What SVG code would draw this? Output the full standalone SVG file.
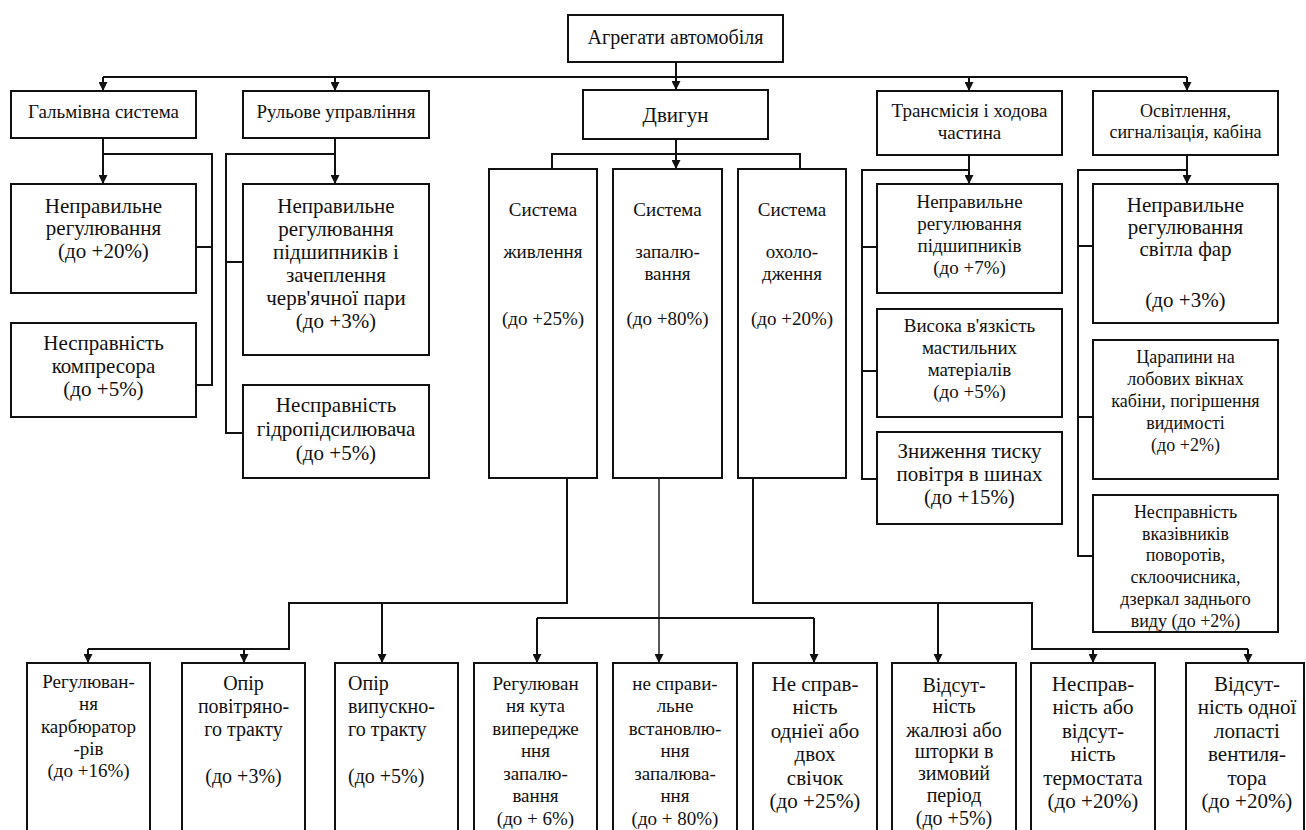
<svg xmlns="http://www.w3.org/2000/svg" width="1306" height="830" viewBox="0 0 1306 830">
  <defs>
    <marker id="arrow" viewBox="0 0 10 10" refX="10" refY="5" markerWidth="9" markerHeight="9" markerUnits="userSpaceOnUse" orient="auto">
      <path d="M0,0 L10,5 L0,10 z" fill="#111"/>
    </marker>
    <style>
      .box { fill: #fff; stroke: #111; stroke-width: 2; }
      .t { font-family: "Liberation Serif", serif; fill: #111; text-anchor: middle; }
      .l { text-anchor: start; }
      .f18 { font-size: 18px; }
      .f19 { font-size: 19px; }
      .f20 { font-size: 20px; }
      .f21 { font-size: 21px; }
      .wire { fill: none; stroke: #111; stroke-width: 2; }
      .thin { stroke-width: 1.4; }
      .arr { marker-end: url(#arrow); }
    </style>
  </defs>

  <rect x="0" y="0" width="1306" height="830" fill="#fff"/>

  <!-- connectors -->
  <g id="connectors">
    <!-- top level distribution -->
    <path class="wire" d="M103,77 H1187"/>
    <path class="wire arr" d="M676,62 V90"/>
    <path class="wire arr" d="M103,77 V91"/>
    <path class="wire arr" d="M335,77 V91"/>
    <path class="wire arr" d="M969,77 V91"/>
    <path class="wire arr" d="M1187,77 V91"/>

    <!-- brakes -->
    <path class="wire arr" d="M103,138 V184"/>
    <path class="wire" d="M103,154 H212 V385 H196 M196,247 H212"/>

    <!-- steering -->
    <path class="wire arr" d="M335,138 V184"/>
    <path class="wire" d="M335,154 H226 V433 H243 M226,262 H243"/>

    <!-- engine -->
    <path class="wire arr" d="M676,139 V169"/>
    <path class="wire" d="M552,169 V154 H800 V169"/>

    <!-- transmission -->
    <path class="wire arr" d="M969,155 V184"/>
    <path class="wire" d="M969,170 H862 V479 H877 M862,247 H877 M862,371 H877"/>

    <!-- lighting -->
    <path class="wire arr" d="M1187,155 V184"/>
    <path class="wire" d="M1187,170 H1078 V556 H1093 M1078,246 H1093 M1078,417 H1093"/>

    <!-- fuel system branches -->
    <path class="wire" d="M567,478 V603 H289 V649 H88"/>
    <path class="wire arr" d="M88,649 V663"/>
    <path class="wire arr" d="M244,649 V663"/>
    <path class="wire arr" d="M382,603 V663"/>

    <!-- ignition system branches -->
    <path class="wire thin arr" d="M659,478 V663"/>
    <path class="wire" d="M537,618 H814"/>
    <path class="wire arr" d="M537,618 V663"/>
    <path class="wire arr" d="M814,618 V663"/>

    <!-- cooling system branches -->
    <path class="wire" d="M753,478 V603 H1032 V649 H1248"/>
    <path class="wire arr" d="M938,603 V663"/>
    <path class="wire arr" d="M1093,649 V663"/>
    <path class="wire arr" d="M1248,649 V663"/>
  </g>

  <!-- root -->
  <g id="n-root">
    <rect class="box" x="568" y="15" width="215" height="47"/>
    <text class="t f20" x="675.5" y="44">Агрегати автомобіля</text>
  </g>

  <!-- level 1 -->
  <g id="n-brakes">
    <rect class="box" x="11" y="91" width="185" height="47"/>
    <text class="t f19" x="103.5" y="118">Гальмівна система</text>
  </g>
  <g id="n-steering">
    <rect class="box" x="243" y="91" width="186" height="47"/>
    <text class="t f19" x="336" y="118">Рульове управління</text>
  </g>
  <g id="n-engine">
    <rect class="box" x="583" y="90" width="185" height="49"/>
    <text class="t f21" x="675.5" y="122">Двигун</text>
  </g>
  <g id="n-transmission">
    <rect class="box" x="877" y="91" width="185" height="64"/>
    <text class="t f19"><tspan x="969.5" y="117">Трансмісія і ходова</tspan><tspan x="969.5" y="139">частина</tspan></text>
  </g>
  <g id="n-lighting">
    <rect class="box" x="1093" y="91" width="185" height="64"/>
    <text class="t f18"><tspan x="1185.5" y="117">Освітлення,</tspan><tspan x="1185.5" y="138">сигналізація, кабіна</tspan></text>
  </g>

  <!-- brakes -->
  <g id="n-brake-adjust">
    <rect class="box" x="11" y="184" width="185" height="109"/>
    <text class="t f21"><tspan x="103.5" y="213">Неправильне</tspan><tspan x="103.5" y="235">регулювання</tspan><tspan x="103.5" y="258">(до +20%)</tspan></text>
  </g>
  <g id="n-compressor">
    <rect class="box" x="11" y="323" width="185" height="94"/>
    <text class="t f21"><tspan x="103.5" y="350">Несправність</tspan><tspan x="103.5" y="373">компресора</tspan><tspan x="103.5" y="396">(до +5%)</tspan></text>
  </g>

  <!-- steering -->
  <g id="n-steer-bearings">
    <rect class="box" x="243" y="184" width="186" height="171"/>
    <text class="t f21"><tspan x="336" y="213">Неправильне</tspan><tspan x="336" y="236">регулювання</tspan><tspan x="336" y="259">підшипників і</tspan><tspan x="336" y="282">зачеплення</tspan><tspan x="336" y="305">черв'ячної пари</tspan><tspan x="336" y="328">(до +3%)</tspan></text>
  </g>
  <g id="n-hydro">
    <rect class="box" x="243" y="385" width="186" height="93"/>
    <text class="t f21"><tspan x="336" y="412">Несправність</tspan><tspan x="336" y="436">гідропідсилювача</tspan><tspan x="336" y="460">(до +5%)</tspan></text>
  </g>

  <!-- engine systems -->
  <g id="n-fuel">
    <rect class="box" x="489" y="169" width="108" height="309"/>
    <text class="t f19"><tspan x="543" y="216">Система</tspan><tspan x="543" y="258">живлення</tspan><tspan x="543" y="325">(до +25%)</tspan></text>
  </g>
  <g id="n-ignition">
    <rect class="box" x="613" y="169" width="109" height="309"/>
    <text class="t f19"><tspan x="667.5" y="216">Система</tspan><tspan x="667.5" y="258">запалю-</tspan><tspan x="667.5" y="280">вання</tspan><tspan x="667.5" y="325">(до +80%)</tspan></text>
  </g>
  <g id="n-cooling">
    <rect class="box" x="738" y="169" width="108" height="309"/>
    <text class="t f19"><tspan x="792" y="216">Система</tspan><tspan x="792" y="258">охоло-</tspan><tspan x="792" y="280">дження</tspan><tspan x="792" y="325">(до +20%)</tspan></text>
  </g>

  <!-- transmission -->
  <g id="n-trans-bearings">
    <rect class="box" x="877" y="184" width="185" height="109"/>
    <text class="t f19"><tspan x="969.5" y="208">Неправильне</tspan><tspan x="969.5" y="230">регулювання</tspan><tspan x="969.5" y="252">підшипників</tspan><tspan x="969.5" y="274">(до +7%)</tspan></text>
  </g>
  <g id="n-viscosity">
    <rect class="box" x="877" y="309" width="185" height="108"/>
    <text class="t f19"><tspan x="969.5" y="332">Висока в'язкість</tspan><tspan x="969.5" y="354">мастильних</tspan><tspan x="969.5" y="376">матеріалів</tspan><tspan x="969.5" y="398">(до +5%)</tspan></text>
  </g>
  <g id="n-tyres">
    <rect class="box" x="877" y="432" width="185" height="92"/>
    <text class="t f21"><tspan x="969.5" y="458">Зниження тиску</tspan><tspan x="969.5" y="481">повітря в шинах</tspan><tspan x="969.5" y="504">(до +15%)</tspan></text>
  </g>

  <!-- lighting -->
  <g id="n-headlights">
    <rect class="box" x="1093" y="184" width="185" height="139"/>
    <text class="t f21"><tspan x="1185.5" y="212">Неправильне</tspan><tspan x="1185.5" y="234">регулювання</tspan><tspan x="1185.5" y="256">світла фар</tspan><tspan x="1185.5" y="307">(до +3%)</tspan></text>
  </g>
  <g id="n-windscreen">
    <rect class="box" x="1093" y="340" width="185" height="139"/>
    <text class="t f18"><tspan x="1185.5" y="363">Царапини на</tspan><tspan x="1185.5" y="385">лобових вікнах</tspan><tspan x="1185.5" y="407">кабіни, погіршення</tspan><tspan x="1185.5" y="429">видимості</tspan><tspan x="1185.5" y="451">(до +2%)</tspan></text>
  </g>
  <g id="n-indicators">
    <rect class="box" x="1093" y="495" width="185" height="137"/>
    <text class="t f18"><tspan x="1185.5" y="518">Несправність</tspan><tspan x="1185.5" y="540">вказівників</tspan><tspan x="1185.5" y="561">поворотів,</tspan><tspan x="1185.5" y="583">склоочисника,</tspan><tspan x="1185.5" y="605">дзеркал заднього</tspan><tspan x="1185.5" y="627">виду (до +2%)</tspan></text>
  </g>

  <!-- bottom row -->
  <g id="b-carburettor">
    <rect class="box" x="27" y="663" width="123" height="180"/>
    <text class="t f19"><tspan x="88.5" y="688">Регулюван-</tspan><tspan x="88.5" y="710">ня</tspan><tspan x="88.5" y="733">карбюратор</tspan><tspan x="88.5" y="755">-рів</tspan><tspan x="88.5" y="777">(до +16%)</tspan></text>
  </g>
  <g id="b-air">
    <rect class="box" x="182" y="663" width="123" height="180"/>
    <text class="t f20"><tspan x="243.5" y="690">Опір</tspan><tspan x="243.5" y="713">повітряно-</tspan><tspan x="243.5" y="736">го тракту</tspan><tspan x="243.5" y="783">(до +3%)</tspan></text>
  </g>
  <g id="b-exhaust">
    <rect class="box" x="335" y="663" width="123" height="180"/>
    <text class="t l f20"><tspan x="348" y="690">Опір</tspan><tspan x="348" y="713">випускно-</tspan><tspan x="348" y="736">го тракту</tspan><tspan x="348" y="783">(до +5%)</tspan></text>
  </g>
  <g id="b-timing">
    <rect class="box" x="474" y="663" width="123" height="180"/>
    <text class="t f19"><tspan x="535.5" y="690">Регулюван</tspan><tspan x="535.5" y="712">ня кута</tspan><tspan x="535.5" y="735">випередже</tspan><tspan x="535.5" y="757">ння</tspan><tspan x="535.5" y="780">запалю-</tspan><tspan x="535.5" y="802">вання</tspan><tspan x="535.5" y="825">(до + 6%)</tspan></text>
  </g>
  <g id="b-setting">
    <rect class="box" x="613" y="663" width="124" height="180"/>
    <text class="t f19"><tspan x="675" y="690">не справи-</tspan><tspan x="675" y="712">льне</tspan><tspan x="675" y="735">встановлю-</tspan><tspan x="675" y="757">ння</tspan><tspan x="675" y="780">запалюва-</tspan><tspan x="675" y="802">ння</tspan><tspan x="675" y="825">(до + 80%)</tspan></text>
  </g>
  <g id="b-plugs">
    <rect class="box" x="753" y="663" width="124" height="180"/>
    <text class="t f21"><tspan x="815" y="691">Не справ-</tspan><tspan x="815" y="714">ність</tspan><tspan x="815" y="738">одніеї або</tspan><tspan x="815" y="761">двох</tspan><tspan x="815" y="785">свічок</tspan><tspan x="815" y="808">(до +25%)</tspan></text>
  </g>
  <g id="b-shutters">
    <rect class="box" x="892" y="663" width="124" height="180"/>
    <text class="t f20"><tspan x="954" y="692">Відсут-</tspan><tspan x="954" y="713">ність</tspan><tspan x="954" y="737">жалюзі або</tspan><tspan x="954" y="758">шторки в</tspan><tspan x="954" y="780">зимовий</tspan><tspan x="954" y="802">період</tspan><tspan x="954" y="825">(до +5%)</tspan></text>
  </g>
  <g id="b-thermostat">
    <rect class="box" x="1031" y="663" width="124" height="180"/>
    <text class="t f21"><tspan x="1093" y="691">Несправ-</tspan><tspan x="1093" y="714">ність або</tspan><tspan x="1093" y="738">відсут-</tspan><tspan x="1093" y="761">ність</tspan><tspan x="1093" y="785">термостата</tspan><tspan x="1093" y="808">(до +20%)</tspan></text>
  </g>
  <g id="b-fan">
    <rect class="box" x="1186" y="663" width="118" height="180"/>
    <text class="t f21"><tspan x="1247" y="691">Відсут-</tspan><tspan x="1247" y="714">ність одної</tspan><tspan x="1247" y="738">лопасті</tspan><tspan x="1247" y="761">вентиля-</tspan><tspan x="1247" y="785">тора</tspan><tspan x="1247" y="808">(до +20%)</tspan></text>
  </g>
</svg>
